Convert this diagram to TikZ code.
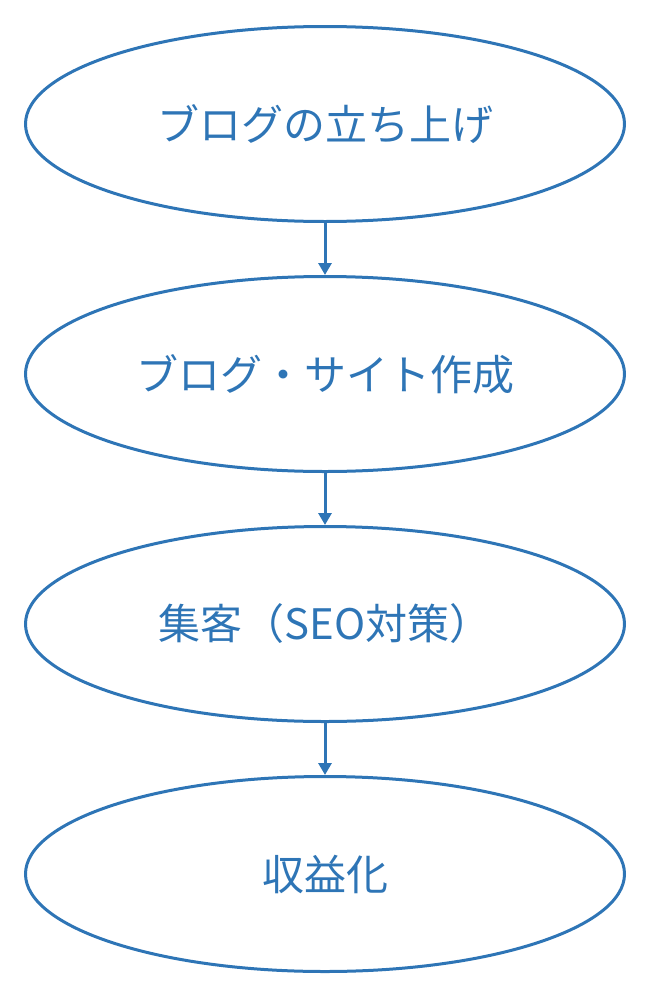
\documentclass[tikz,border=0pt]{standalone}
\usepackage{fontspec}
\newfontfamily\jpfont{Noto Sans CJK JP}
\usetikzlibrary{shapes.geometric, positioning, arrows.meta}
\definecolor{stepblue}{HTML}{2E75B6}
\begin{document}
\begin{tikzpicture}
        [x = 1pt, y = 1pt, line width = 3pt,
         stage/.style = {ellipse, draw = stepblue, text = stepblue,
           minimum width = 599pt, minimum height = 195pt, inner sep = 0pt,
           font = \jpfont\fontsize{42}{50}\selectfont},
         flow/.style = {draw = stepblue, -{Triangle[width = 13pt, length = 12pt]}},
         node distance = 52pt]

        \useasboundingbox (0,0) rectangle (651,-1001);

        \node[stage] (blog) at (325,-124) {ブログの立ち上げ};
        \node[stage, below = of blog] (site) {ブログ・サイト作成};
        \node[stage, below = of site] (seo) {集客（SEO対策）};
        \node[stage, below = of seo] (profit) {収益化};

        \foreach \a/\b in {blog/site, site/seo, seo/profit}
          \draw[flow] (\a) -- (\b);
      \end{tikzpicture}
\end{document}
